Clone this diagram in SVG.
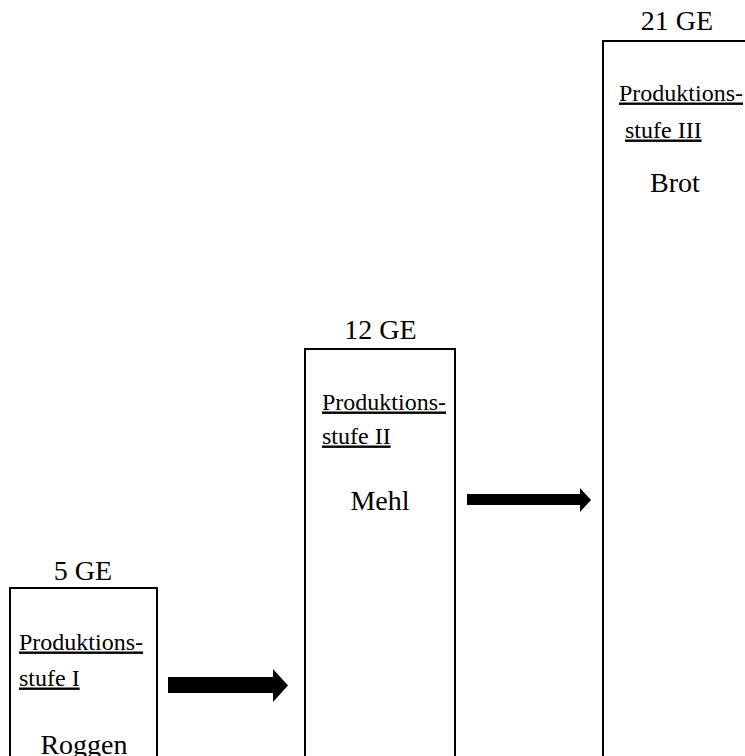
<svg xmlns="http://www.w3.org/2000/svg" width="745" height="756" viewBox="0 0 745 756">
<style>
  .box { fill: #fff; stroke: #000; stroke-width: 2; }
  text { font-family: "Liberation Serif", "Times New Roman", serif; fill: #000; }
  .ge { font-size: 28px; text-anchor: middle; }
  .stage { font-size: 24px; text-decoration: underline; }
  .prod { font-size: 28px; text-anchor: middle; }
  .arrow { fill: #000; }
</style>
<rect width="745" height="756" fill="#fff"/>
<g id="stage1">
  <text class="ge" x="83" y="580">5 GE</text>
  <rect class="box" x="10" y="588" width="147" height="220"/>
  <text class="stage" x="19" y="649.5">Produktions-</text>
  <text class="stage" x="19" y="685.5">stufe I</text>
  <text class="prod" x="84" y="754">Roggen</text>
</g>
<g id="stage2">
  <text class="ge" x="380.5" y="339">12 GE</text>
  <rect class="box" x="305" y="349" width="150" height="460"/>
  <text class="stage" x="322" y="409.5">Produktions-</text>
  <text class="stage" x="322" y="443.5">stufe II</text>
  <text class="prod" x="380" y="510">Mehl</text>
</g>
<g id="stage3">
  <text class="ge" x="677" y="30">21 GE</text>
  <rect class="box" x="603" y="41" width="160" height="760"/>
  <text class="stage" x="619" y="100.5">Produktions-</text>
  <text class="stage" x="625" y="137.5">stufe III</text>
  <text class="prod" x="675" y="192">Brot</text>
</g>
<g id="connectors">
  <polygon class="arrow" points="168,677 273,677 273,669 288,685.5 273,702 273,693 168,693"/>
  <polygon class="arrow" points="467,494 580,494 580,488 591,500 580,512 580,505 467,505"/>
</g>
</svg>
